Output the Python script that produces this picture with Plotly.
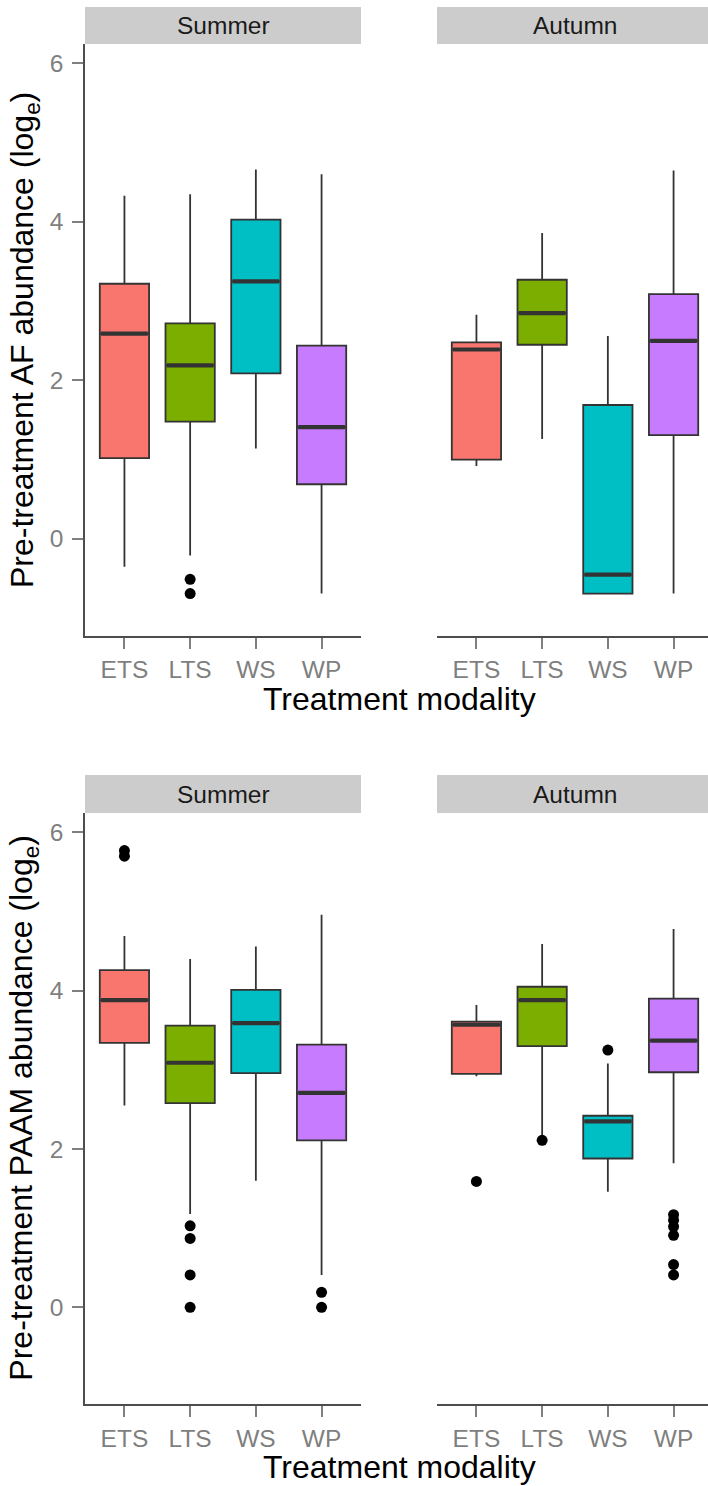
import plotly.graph_objects as go

W, H = 708, 1486

categories = ["ETS", "LTS", "WS", "WP"]
colors = ["#F8766D", "#7CAE00", "#00BFC4", "#C77CFF"]
seasons = ["Summer", "Autumn"]

# ---- AF abundance (top row) ----
af_summer_q1 = [1.02, 1.48, 2.09, 0.69]
af_summer_med = [2.59, 2.19, 3.25, 1.41]
af_summer_q3 = [3.22, 2.72, 4.03, 2.44]
af_summer_lo = [-0.35, -0.21, 1.14, -0.69]
af_summer_hi = [4.33, 4.35, 4.66, 4.60]
af_summer_out = [[], [-0.51, -0.69], [], []]

af_autumn_q1 = [1.00, 2.45, -0.69, 1.31]
af_autumn_med = [2.39, 2.85, -0.45, 2.50]
af_autumn_q3 = [2.48, 3.27, 1.69, 3.09]
af_autumn_lo = [0.92, 1.26, -0.69, -0.69]
af_autumn_hi = [2.83, 3.86, 2.56, 4.65]
af_autumn_out = [[], [], [], []]

# ---- PAAM abundance (bottom row) ----
paam_summer_q1 = [3.34, 2.58, 2.96, 2.11]
paam_summer_med = [3.88, 3.09, 3.59, 2.71]
paam_summer_q3 = [4.26, 3.56, 4.01, 3.32]
paam_summer_lo = [2.55, 1.18, 1.60, 0.41]
paam_summer_hi = [4.69, 4.40, 4.56, 4.96]
paam_summer_out = [[5.77, 5.70], [1.03, 0.87, 0.41, 0.0], [], [0.19, 0.0]]

paam_autumn_q1 = [2.95, 3.30, 1.88, 2.97]
paam_autumn_med = [3.57, 3.88, 2.35, 3.37]
paam_autumn_q3 = [3.61, 4.05, 2.42, 3.90]
paam_autumn_lo = [2.92, 2.14, 1.46, 1.82]
paam_autumn_hi = [3.82, 4.59, 3.08, 4.78]
paam_autumn_out = [[1.59], [2.11], [3.25], [1.17, 1.10, 1.02, 0.91, 0.54, 0.41]]

y_titles = ["Pre-treatment AF abundance (log<sub>e</sub>)",
            "Pre-treatment PAAM abundance (log<sub>e</sub>)"]
x_title = "Treatment modality"
y_ticks = [0, 2, 4, 6]

panels = [
    # (row, col, q1, med, q3, lo, hi, out)
    (0, 0, af_summer_q1, af_summer_med, af_summer_q3, af_summer_lo, af_summer_hi, af_summer_out),
    (0, 1, af_autumn_q1, af_autumn_med, af_autumn_q3, af_autumn_lo, af_autumn_hi, af_autumn_out),
    (1, 0, paam_summer_q1, paam_summer_med, paam_summer_q3, paam_summer_lo, paam_summer_hi, paam_summer_out),
    (1, 1, paam_autumn_q1, paam_autumn_med, paam_autumn_q3, paam_autumn_lo, paam_autumn_hi, paam_autumn_out),
]

# layout geometry in pixels
col_x = [(85, 361), (437, 708)]
row_y = [(44, 636), (813, 1404.3)]
strip_y = [(7, 44), (775, 813)]
px_per_unit = 276 / 4.2
yrange = [-1.225, 6.245]
box_w = 0.75
line_col = "#333333"
font_fam = "Arial, Liberation Sans, sans-serif"
tick_size = 24.5
title_size = 32

def px2x(p):
    return p / W

def px2y(p):
    return 1 - p / H

fig = go.Figure()
layout = dict(
    width=W, height=H, margin=dict(l=0, r=0, t=0, b=0),
    paper_bgcolor="white", plot_bgcolor="white", showlegend=False,
    font=dict(family=font_fam),
)
shapes = []
annotations = []

for idx, (r, c, q1, med, q3, lo, hi, out) in enumerate(panels):
    n = idx + 1
    xa = "x" if n == 1 else f"x{n}"
    ya = "y" if n == 1 else f"y{n}"
    xpos = [i + 1 for i in range(len(categories))]
    for i in range(len(categories)):
        fig.add_trace(go.Box(
            x=[xpos[i]], q1=[q1[i]], median=[med[i]], q3=[q3[i]],
            lowerfence=[lo[i]], upperfence=[hi[i]],
            fillcolor=colors[i], line=dict(color=line_col, width=1.8),
            whiskerwidth=0, width=box_w, boxpoints=False,
            xaxis=xa, yaxis=ya, hoverinfo="skip",
        ))
        fig.add_trace(go.Scatter(
            x=[xpos[i] - box_w / 2 + 0.02, xpos[i] + box_w / 2 - 0.02],
            y=[med[i], med[i]], mode="lines",
            line=dict(color=line_col, width=4.2),
            xaxis=xa, yaxis=ya, hoverinfo="skip",
        ))
        if out[i]:
            fig.add_trace(go.Scatter(
                x=[xpos[i]] * len(out[i]), y=out[i], mode="markers",
                marker=dict(color="black", size=11),
                xaxis=xa, yaxis=ya, hoverinfo="skip",
            ))
    x0, x1 = col_x[c]
    y0, y1 = row_y[r]
    xr = [0.4, 0.4 + (x1 - x0) / px_per_unit]
    xkey = "xaxis" if n == 1 else f"xaxis{n}"
    ykey = "yaxis" if n == 1 else f"yaxis{n}"
    layout[xkey] = dict(
        domain=[px2x(x0), px2x(x1)], anchor=ya, range=xr,
        tickmode="array", tickvals=xpos, ticktext=categories,
        showgrid=False, zeroline=False, showline=True,
        linecolor="#4d4d4d", linewidth=1.6,
        ticks="outside", ticklen=11, tickwidth=1.6, tickcolor="#7f7f7f",
        tickfont=dict(size=tick_size, color="#7f7f7f", family=font_fam),
        ticklabelstandoff=0,
    )
    yd = dict(
        domain=[px2y(y1), px2y(y0)], anchor=xa, range=yrange,
        showgrid=False, zeroline=False,
    )
    if c == 0:
        yd.update(
            tickmode="array", tickvals=y_ticks, ticktext=[str(t) for t in y_ticks],
            showline=True, linecolor="#4d4d4d", linewidth=1.6,
            ticks="outside", ticklen=11, tickwidth=1.6, tickcolor="#7f7f7f",
            tickfont=dict(size=tick_size, color="#7f7f7f", family=font_fam),
            ticklabelstandoff=4,
        )
    else:
        yd.update(showline=False, showticklabels=False, ticks="")
    layout[ykey] = yd

    # strip
    s0, s1 = strip_y[r]
    shapes.append(dict(type="rect", xref="paper", yref="paper",
                       x0=px2x(x0), x1=px2x(x1) + (0.01 if c == 1 else 0),
                       y0=px2y(s1), y1=px2y(s0),
                       fillcolor="#cccccc", line=dict(width=0), layer="below"))
    annotations.append(dict(text=seasons[c], xref="paper", yref="paper",
                            x=px2x((x0 + x1 + (5 if c == 1 else 0)) / 2),
                            y=px2y((s0 + s1) / 2),
                            showarrow=False, xanchor="center", yanchor="middle",
                            font=dict(size=tick_size, color="#1a1a1a", family=font_fam)))

# axis titles
for r in range(2):
    y0, y1 = row_y[r]
    annotations.append(dict(text=y_titles[r], xref="paper", yref="paper",
                            x=px2x(24), y=px2y((y0 + y1) / 2), textangle=-90,
                            showarrow=False, xanchor="center", yanchor="middle",
                            font=dict(size=title_size, color="black", family=font_fam)))
    annotations.append(dict(text=x_title, xref="paper", yref="paper",
                            x=px2x(399), y=px2y(y1 + 62.5),
                            showarrow=False, xanchor="center", yanchor="middle",
                            font=dict(size=title_size, color="black", family=font_fam)))

layout["shapes"] = shapes
layout["annotations"] = annotations
fig.update_layout(**layout)
fig.write_html("out.html", config={"displayModeBar": False},
               post_script="document.body.style.margin='0';document.body.style.overflow='hidden';")
